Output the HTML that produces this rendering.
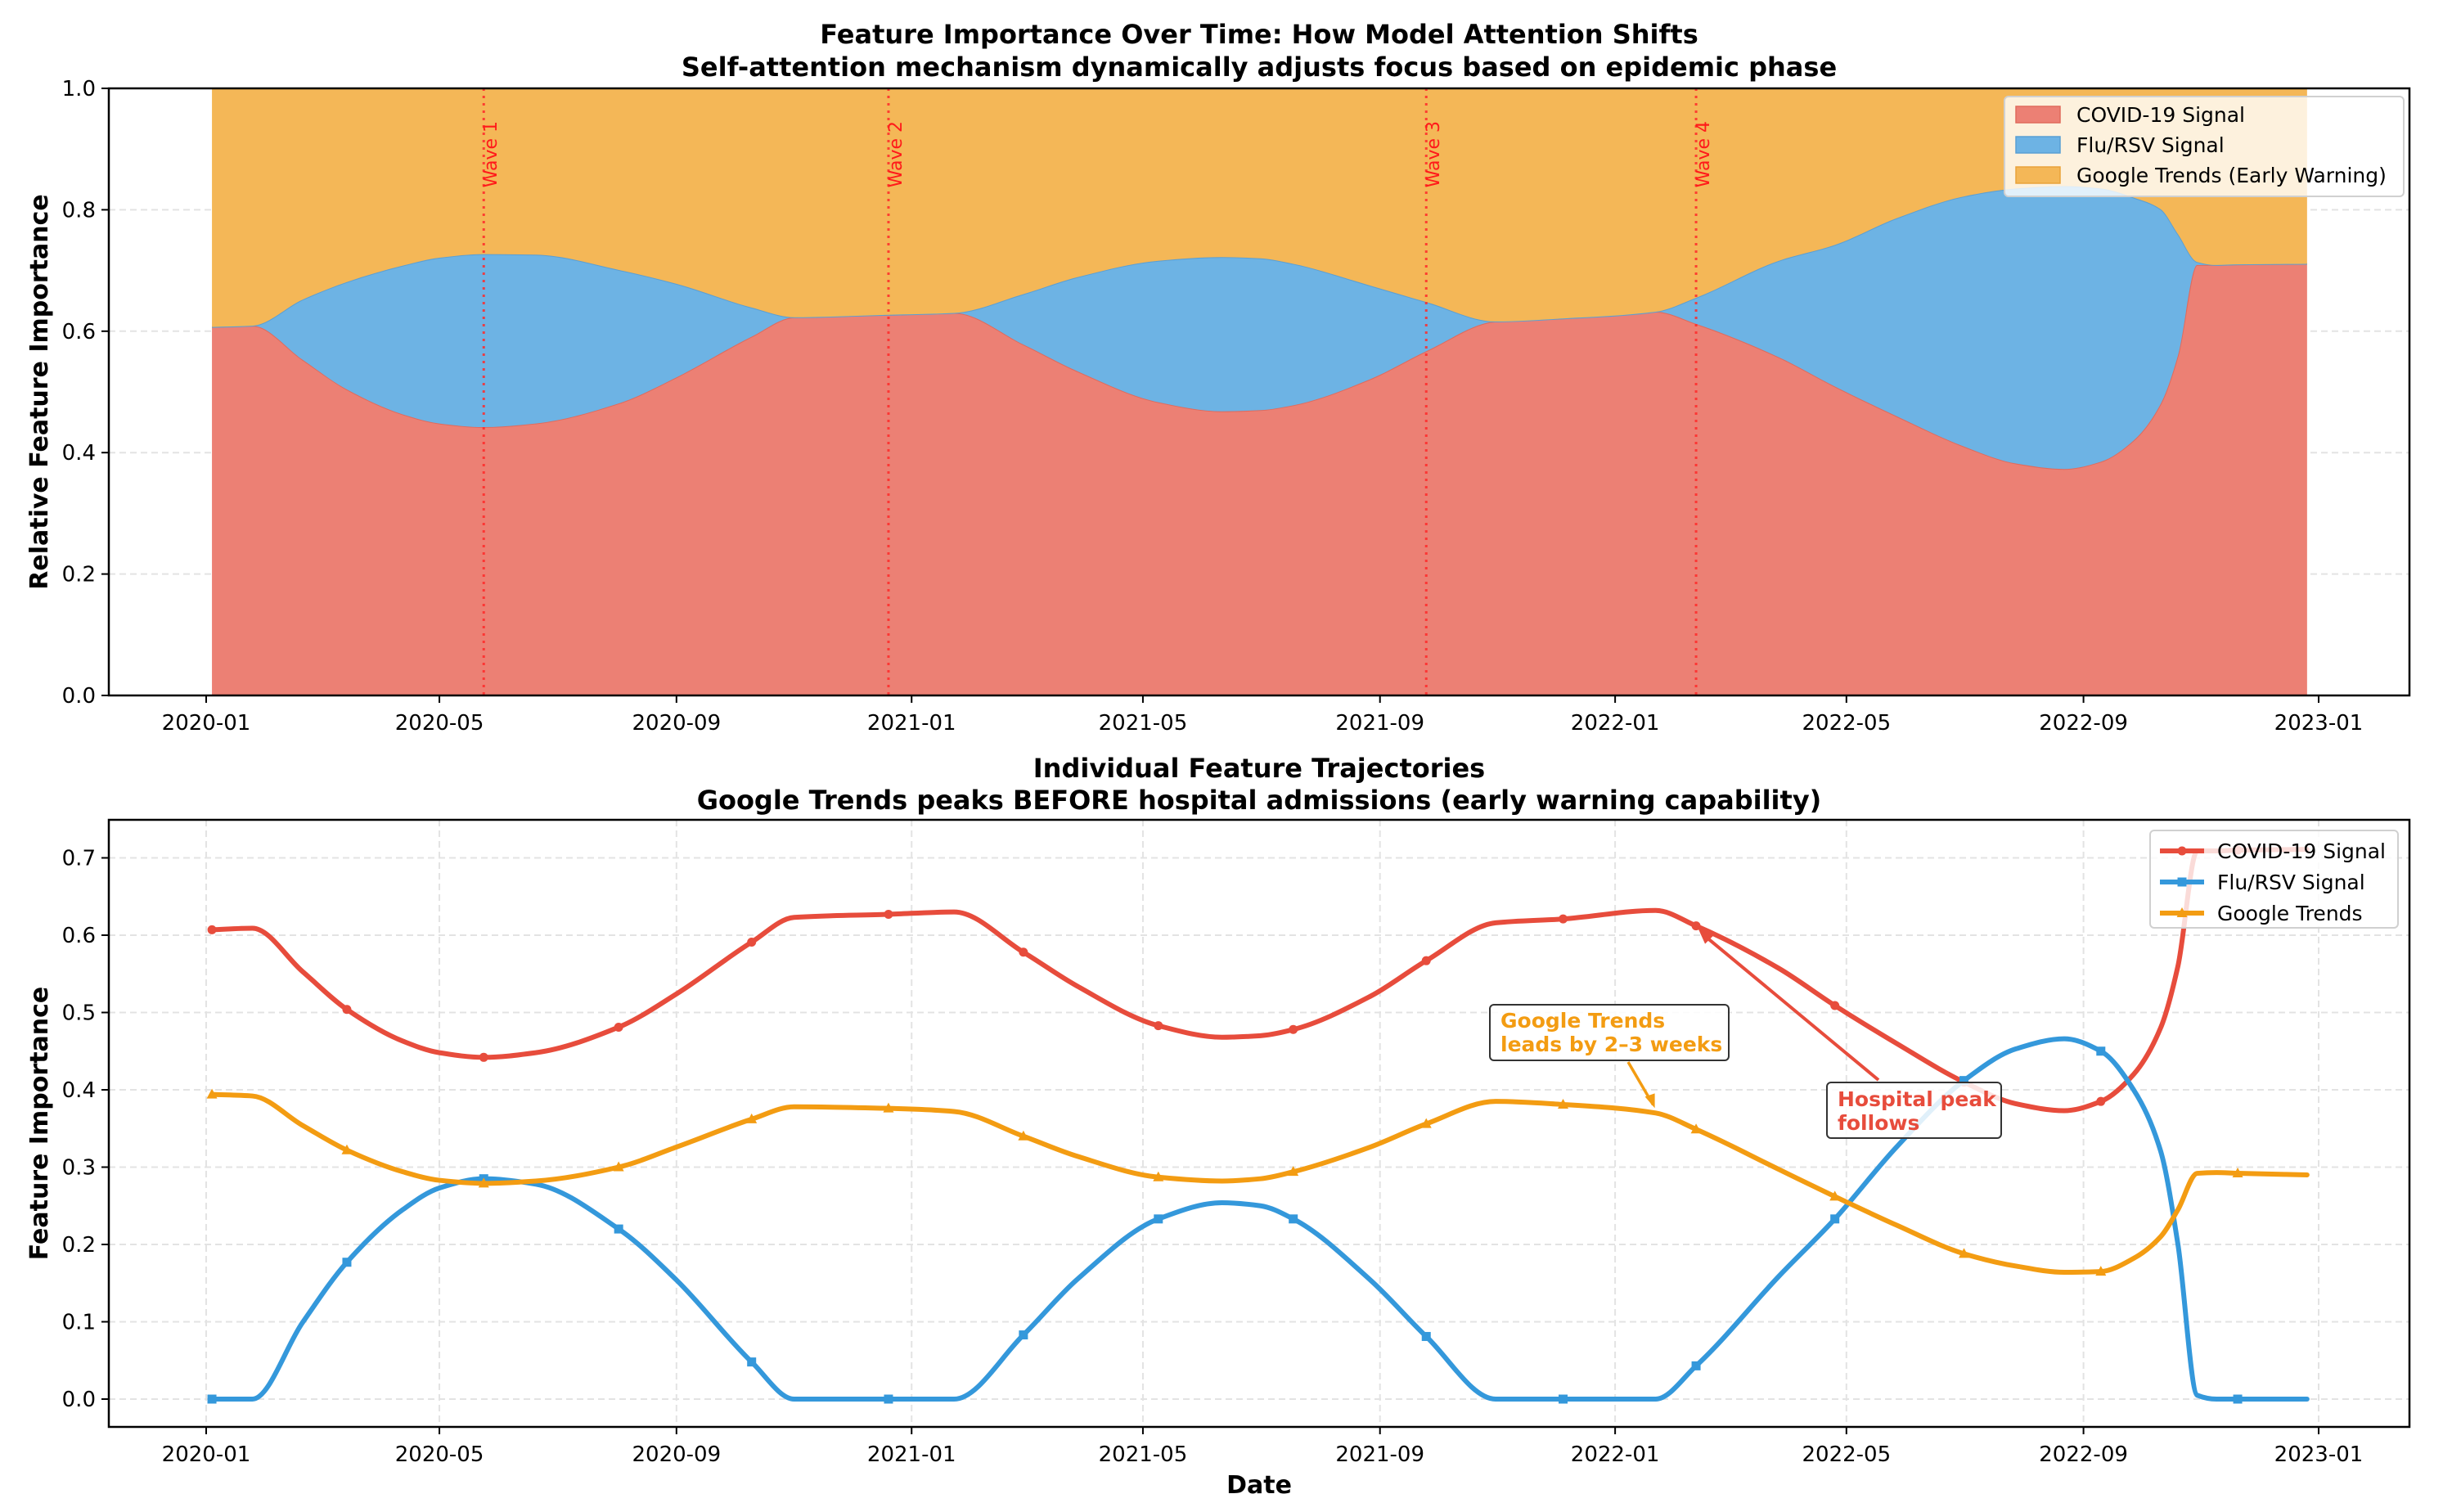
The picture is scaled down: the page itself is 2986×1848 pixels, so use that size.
<!DOCTYPE html>
<html><head><meta charset="utf-8"><style>
html,body{margin:0;padding:0;background:#fff;}
svg{display:block;font-family:"DejaVu Sans","Liberation Sans",sans-serif;}
</style></head><body>
<svg id="chart" width="2986" height="1848" viewBox="0 0 2986 1848" xmlns="http://www.w3.org/2000/svg">
<rect width="2986" height="1848" fill="#fff"/>
<g font-weight="bold" font-size="32" text-anchor="middle">
<text x="1539" y="53">Feature Importance Over Time: How Model Attention Shifts</text>
<text x="1539" y="93">Self-attention mechanism dynamically adjusts focus based on epidemic phase</text>
</g>
<g font-weight="bold" font-size="32" text-anchor="middle">
<text x="1539" y="950">Individual Feature Trajectories</text>
<text x="1539" y="989">Google Trends peaks BEFORE hospital admissions (early warning capability)</text>
</g>
<text font-weight="bold" font-size="30" text-anchor="middle" transform="translate(58,479) rotate(-90)">Relative Feature Importance</text>
<text font-weight="bold" font-size="30" text-anchor="middle" transform="translate(58,1373) rotate(-90)">Feature Importance</text>
<text font-weight="bold" font-size="30" text-anchor="middle" x="1539" y="1825">Date</text>
<g id="topg"></g>
<g id="botg"></g>
</svg>
<script>
const days = [3,24,50,73,102,121,144,171,214,244,283,305,354,388,424,452,494,527,547,564,604,633,669,704,752,773,816,845,877,912,939,964,983,1000,1014,1023,1033,1043,1054,1090];
const covid = [0.607,0.609,0.553,0.504,0.463,0.448,0.442,0.448,0.481,0.524,0.591,0.623,0.627,0.630,0.578,0.534,0.483,0.468,0.470,0.478,0.521,0.567,0.616,0.621,0.632,0.612,0.557,0.509,0.460,0.410,0.382,0.373,0.385,0.420,0.480,0.560,0.709,0.709,0.710,0.711];
const flu = [0,0,0.099,0.177,0.245,0.273,0.285,0.278,0.220,0.154,0.048,0,0,0,0.083,0.155,0.233,0.254,0.250,0.233,0.154,0.081,0,0,0,0.043,0.159,0.233,0.326,0.412,0.453,0.466,0.450,0.400,0.321,0.200,0.005,0,0,0];
const google = [0.394,0.392,0.354,0.322,0.294,0.283,0.279,0.282,0.300,0.326,0.362,0.378,0.376,0.372,0.340,0.314,0.287,0.282,0.285,0.294,0.326,0.356,0.385,0.381,0.370,0.349,0.297,0.262,0.225,0.188,0.172,0.164,0.165,0.182,0.210,0.245,0.292,0.293,0.292,0.290];
const markerDays = [3,73,144,214,283,354,424,494,564,633,704,773,845,912,983,1054];
const waveDays = [144,354,633,773];
const waveLabels = ["Wave 1","Wave 2","Wave 3","Wave 4"];
const xTickDays = [0,121,244,366,486,609,731,851,974,1096];
const xTickLabels = ["2020-01","2020-05","2020-09","2021-01","2021-05","2021-09","2022-01","2022-05","2022-09","2023-01"];
const topYTicks = [0,0.2,0.4,0.6,0.8,1.0];
const botYTicks = [0,0.1,0.2,0.3,0.4,0.5,0.6,0.7];

const NS="http://www.w3.org/2000/svg";
function mk(tag,attrs,parent){const e=document.createElementNS(NS,tag);for(const k in attrs)e.setAttribute(k,attrs[k]);parent.appendChild(e);return e;}
const L=133,R=2945;
const xS=d=>252+d*(2834-252)/1096;
const tT=108,tB=850; const yT=v=>tB-v*(tB-tT);
const bT=1002,bB=1744; const yB=v=>1710-v*945;
const topG=document.getElementById('topg'), botG=document.getElementById('botg');

// monotone cubic path through points (pixel space)
function smoothPath(px,py,moveFirst){
  const n=px.length, m=new Array(n), dl=[];
  for(let i=0;i<n-1;i++)dl.push((py[i+1]-py[i])/(px[i+1]-px[i]));
  m[0]=dl[0];m[n-1]=dl[n-2];
  for(let i=1;i<n-1;i++){ if(dl[i-1]*dl[i]<=0)m[i]=0; else{const h0=px[i]-px[i-1],h1=px[i+1]-px[i];const w1=2*h1+h0,w2=h1+2*h0;m[i]=(w1+w2)/(w1/dl[i-1]+w2/dl[i]);} }
  let d=(moveFirst?'M':'L')+px[0]+','+py[0];
  for(let i=0;i<n-1;i++){const h=(px[i+1]-px[i])/3;
    d+=` C${px[i]+h},${py[i]+m[i]*h} ${px[i+1]-h},${py[i+1]-m[i+1]*h} ${px[i+1]},${py[i+1]}`;}
  return d;
}

function axes(g,T,B,yticks,yf,fmt,vgrid,prefix){
  yticks.forEach(v=>{const y=yf(v);
    if(y>T+1&&y<B-1){const gl=mk('line',{x1:L,x2:R,y1:y,y2:y,stroke:'#e3e3e3','stroke-width':2,'stroke-dasharray':'8,5'},g);
      }
    const tk=mk('line',{x1:L-9,x2:L,y1:y,y2:y,stroke:'#000','stroke-width':2},g);
    
    const t=mk('text',{x:L-16,y:y+9,'font-size':26,'text-anchor':'end'},g);t.textContent=fmt(v);
    
  });
  xTickDays.forEach((d,i)=>{const x=xS(d);
    if(vgrid){const gl=mk('line',{x1:x,x2:x,y1:T,y2:B,stroke:'#e3e3e3','stroke-width':2,'stroke-dasharray':'8,5'},g);
      }
    const tk=mk('line',{x1:x,x2:x,y1:B,y2:B+9,stroke:'#000','stroke-width':2},g);
    
    const t=mk('text',{x:x,y:B+42,'font-size':26,'text-anchor':'middle'},g);t.textContent=xTickLabels[i];
    
  });
}
// TOP chart
axes(topG,tT,tB,topYTicks,yT,v=>v.toFixed(1),false,'top');
const c1=covid, c2=covid.map((v,i)=>v+flu[i]), c3=covid.map((v,i)=>Math.min(1,v+flu[i]+google[i]));
const PX=days.map(xS);
function band(lo,hi,fill,stroke,name){
  const hy=hi.map(yT);
  let d=smoothPath(PX,hy,true);
  if(lo){const ly=lo.map(yT).slice().reverse();d+=smoothPath(PX.slice().reverse(),ly,false);}
  else d+=` L${PX[PX.length-1]},${yT(0)} L${PX[0]},${yT(0)}`;
  const p=mk('path',{d:d+'Z',fill:fill,stroke:'none'},topG);
  
  const e=mk('path',{d:smoothPath(PX,hy,true),fill:'none',stroke:stroke,'stroke-width':2},topG);
  
}
band(null,c1,'#ec8074','#e06a5c','covid-area');
band(c1,c2,'#6db3e4','#5a9fd4','flu-area');
band(c2,c3,'#f4b757','#e9a23a','google-trends-area');
waveDays.forEach((d,i)=>{const x=xS(d);
  const l=mk('line',{x1:x,x2:x,y1:tT,y2:tB,stroke:'#ff2a2a','stroke-width':3,'stroke-dasharray':'3,6','opacity':0.85},topG);
  
  const t=mk('text',{'font-size':22,fill:'#ff1a1a','text-anchor':'end',transform:`translate(${x+16},148) rotate(-90)`},topG);
  t.textContent=waveLabels[i];
  
});
mk('rect',{x:L,y:tT,width:R-L,height:tB-tT,fill:'none',stroke:'#000','stroke-width':2.5},topG);
// top legend
const tl=mk('g',{},topG);
mk('rect',{x:2450,y:118,width:488,height:122,rx:5,fill:'#fff','fill-opacity':0.8,stroke:'#d0d0d0','stroke-width':2},tl);
[['COVID-19 Signal','#ec8074','#e06a5c'],['Flu/RSV Signal','#6db3e4','#5a9fd4'],['Google Trends (Early Warning)','#f4b757','#e9a23a']].forEach((e,i)=>{
  const y=130+i*37;
  const r=mk('rect',{x:2464,y:y,width:54,height:20,fill:e[1],stroke:e[2],'stroke-width':1.5},tl);
  
  const t=mk('text',{x:2538,y:y+19,'font-size':25},tl);t.textContent=e[0];
  
});
// BOTTOM chart
axes(botG,bT,bB,botYTicks,yB,v=>v.toFixed(1),true,'bottom');
const series=[[covid,'#e74c3c','circle','covid-line'],[flu,'#3498db','square','flu-line'],[google,'#f39c12','triangle','google-trends-line']];
function marker(g,shape,x,y,col){
  let m;
  if(shape==='circle')m=mk('circle',{cx:x,cy:y,r:5.5,fill:col},g);
  else if(shape==='square')m=mk('rect',{x:x-5.5,y:y-5.5,width:11,height:11,fill:col},g);
  else m=mk('path',{d:`M${x},${y-7} L${x+6.5},${y+5} L${x-6.5},${y+5}Z`,fill:col},g);
  return m;
}
series.forEach(s=>{
  const p=mk('path',{d:smoothPath(PX,s[0].map(yB),true),fill:'none',stroke:s[1],'stroke-width':6,'stroke-linejoin':'round','stroke-linecap':'round'},botG);
  
  days.forEach((d,i)=>{if(markerDays.includes(d)){
    const m=marker(botG,s[2],xS(d),yB(s[0][i]),s[1]);
    }});
});
mk('rect',{x:L,y:bT,width:R-L,height:bB-bT,fill:'none',stroke:'#000','stroke-width':2.5},botG);
// annotations
const ag=mk('g',{},botG);
const gi=days.indexOf(752);
mk('line',{x1:1990,y1:1298,x2:xS(752)-3,y2:yB(google[gi])-10,stroke:'#f39c12','stroke-width':3.5},ag);
mk('path',{d:`M${xS(752)-1},${yB(google[gi])-6} l-12,-14 l12,-4 z`,fill:'#f39c12'},ag);
mk('rect',{x:1821,y:1228,width:292,height:68,rx:5,fill:'#fff','fill-opacity':0.85,stroke:'#333','stroke-width':2},ag);
const gt=mk('text',{x:1834,y:1256,'font-size':25,'font-weight':'bold',fill:'#f39c12'},ag);gt.textContent='Google Trends';
const gt2=mk('text',{x:1834,y:1285,'font-size':25,'font-weight':'bold',fill:'#f39c12'},ag);gt2.textContent='leads by 2–3 weeks';
const hg=mk('g',{},botG);
const hi=days.indexOf(773);
mk('line',{x1:2296,y1:1320,x2:xS(773)+8,y2:yB(covid[hi])+10,stroke:'#e74c3c','stroke-width':4},hg);
mk('path',{d:`M${xS(773)+2},${yB(covid[hi])+2} l20,9 l-11,11 z`,fill:'#e74c3c'},hg);
mk('rect',{x:2233,y:1323,width:213,height:68,rx:5,fill:'#fff','fill-opacity':0.85,stroke:'#333','stroke-width':2},hg);
const ht=mk('text',{x:2246,y:1352,'font-size':25,'font-weight':'bold',fill:'#e74c3c'},hg);ht.textContent='Hospital peak';
const ht2=mk('text',{x:2246,y:1381,'font-size':25,'font-weight':'bold',fill:'#e74c3c'},hg);ht2.textContent='follows';
// bottom legend
const bl=mk('g',{},botG);
mk('rect',{x:2628,y:1015,width:303,height:119,rx:5,fill:'#fff','fill-opacity':0.8,stroke:'#d0d0d0','stroke-width':2},bl);
[['COVID-19 Signal','#e74c3c','circle'],['Flu/RSV Signal','#3498db','square'],['Google Trends','#f39c12','triangle']].forEach((e,i)=>{
  const y=1040+i*38;
  const ln=mk('line',{x1:2640,x2:2694,y1:y,y2:y,stroke:e[1],'stroke-width':6},bl);
  
  marker(bl,e[2],2667,y,e[1]);
  const t=mk('text',{x:2710,y:y+9,'font-size':25},bl);t.textContent=e[0];
  
});
</script>
</body></html>
